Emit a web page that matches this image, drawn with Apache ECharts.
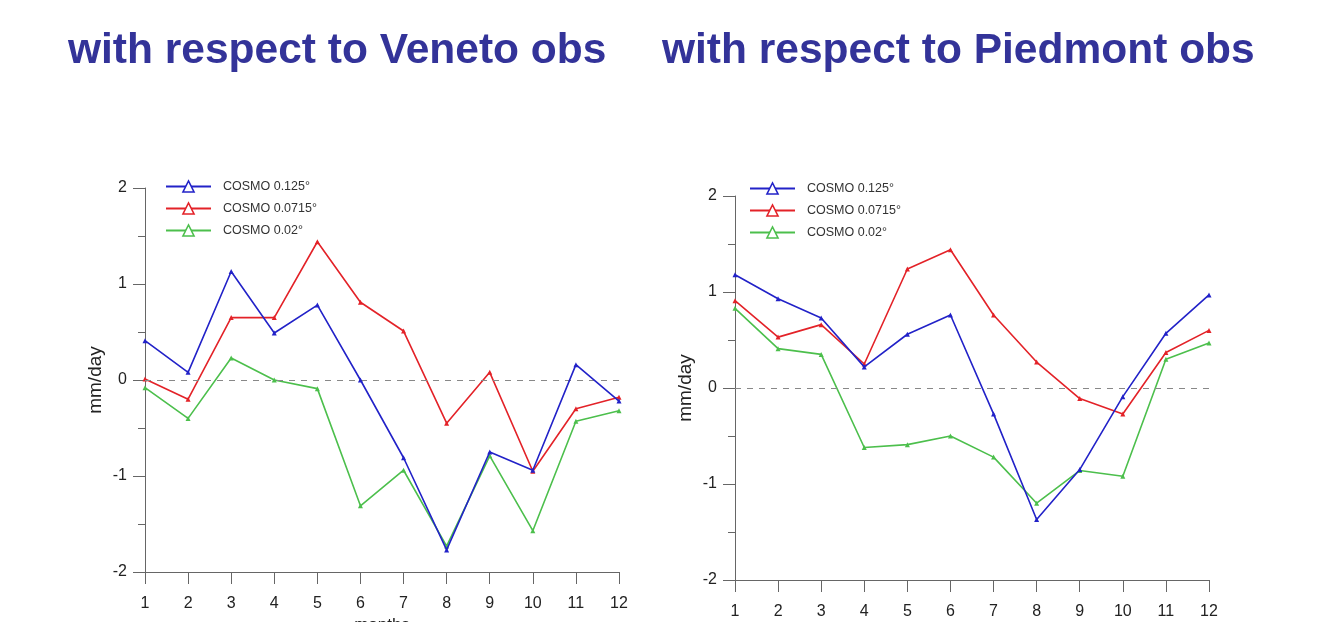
<!DOCTYPE html>
<html>
<head>
<meta charset="utf-8">
<script src="https://cdn.jsdelivr.net/npm/echarts@6/dist/echarts.min.js"></script>
<style>
  html, body { margin: 0; padding: 0; background: #fff; }
  #chart { width: 1325px; height: 622px; }
</style>
</head>
<body>
<div id="chart"></div>
<script>
// Monthly precipitation bias (mm/day) of three COSMO resolutions
const months = [1, 2, 3, 4, 5, 6, 7, 8, 9, 10, 11, 12];
const seriesNames = ['COSMO 0.125°', 'COSMO 0.0715°', 'COSMO 0.02°'];
const yTicks = [-2, -1, 0, 1, 2];

// Bias against Veneto observations
const venetoCosmo0125 = [0.41, 0.08, 1.13, 0.49, 0.78, 0.0, -0.81, -1.77, -0.75, -0.94, 0.16, -0.22];
const venetoCosmo00715 = [0.01, -0.20, 0.65, 0.65, 1.44, 0.81, 0.51, -0.45, 0.08, -0.95, -0.30, -0.18];
const venetoCosmo002 = [-0.08, -0.40, 0.23, 0.0, -0.09, -1.31, -0.94, -1.73, -0.79, -1.57, -0.43, -0.32];

// Bias against Piedmont observations
const piedmontCosmo0125 = [1.18, 0.93, 0.73, 0.22, 0.56, 0.76, -0.27, -1.37, -0.85, -0.09, 0.57, 0.97];
const piedmontCosmo00715 = [0.91, 0.53, 0.66, 0.25, 1.24, 1.44, 0.76, 0.27, -0.11, -0.27, 0.37, 0.60];
const piedmontCosmo002 = [0.83, 0.41, 0.35, -0.62, -0.59, -0.50, -0.72, -1.20, -0.86, -0.92, 0.30, 0.47];

const colors = ['#2222c8', '#e32228', '#4cbf4c'];
const axisColor = '#666';
const labelColor = '#222';

function pairs(values) {
  return months.map((m, i) => [m, values[i]]);
}

function makeGrid(left, top) {
  return { left: left, top: top, width: 474, height: 384, outerBoundsMode: 'none', containLabel: false };
}

function makeXAxis(gridIndex) {
  return {
    gridIndex: gridIndex,
    type: 'value',
    min: 1, max: 12, interval: 1,
    name: 'months',
    nameLocation: 'middle',
    nameGap: 45,
    nameTextStyle: { fontFamily: 'Liberation Sans, Arial', fontSize: 17, color: labelColor },
    axisLine: { onZero: false, lineStyle: { color: axisColor, width: 1 } },
    axisTick: { show: true, inside: false, length: 12, lineStyle: { color: axisColor } },
    axisLabel: { margin: 24, fontFamily: 'Liberation Sans, Arial', fontSize: 16, color: labelColor },
    splitLine: { show: false }
  };
}

function makeYAxis(gridIndex) {
  return {
    gridIndex: gridIndex,
    type: 'value',
    min: yTicks[0], max: yTicks[yTicks.length - 1], interval: 1,
    name: 'mm/day',
    nameLocation: 'middle',
    nameGap: 40,
    nameRotate: 90,
    nameTextStyle: { fontFamily: 'Liberation Sans, Arial', fontSize: 19, color: labelColor },
    axisLine: { show: true, onZero: false, lineStyle: { color: axisColor, width: 1 } },
    axisTick: { show: true, length: 12, lineStyle: { color: axisColor } },
    minorTick: { show: true, splitNumber: 2, length: 7, lineStyle: { color: axisColor } },
    axisLabel: { margin: 18, fontFamily: 'Liberation Sans, Arial', fontSize: 16, color: labelColor },
    splitLine: { show: false },
    minorSplitLine: { show: false }
  };
}

function makeSeries(name, values, colorIdx, axisIdx, withZeroLine) {
  const s = {
    name: name,
    type: 'line',
    xAxisIndex: axisIdx,
    yAxisIndex: axisIdx,
    data: pairs(values),
    symbol: 'triangle',
    symbolSize: 5,
    showSymbol: true,
    lineStyle: { color: colors[colorIdx], width: 1.6 },
    itemStyle: { color: colors[colorIdx] },
    z: 3 - colorIdx + 2
  };
  if (withZeroLine) {
    s.markLine = {
      silent: true,
      symbol: 'none',
      label: { show: false },
      lineStyle: { color: '#888', type: [6, 6], width: 1 },
      data: [{ yAxis: 0 }]
    };
  }
  return s;
}

function makeLegend(left, top) {
  return {
    orient: 'vertical',
    left: left,
    top: top,
    padding: 0,
    itemWidth: 45,
    itemHeight: 14,
    itemGap: 9,
    textStyle: { fontFamily: 'Liberation Sans, Arial', fontSize: 12.5, color: '#333', padding: [0, 0, 0, 7] },
    data: seriesNames.map((n, i) => ({
      name: n,
      itemStyle: { color: '#fff', borderColor: colors[i], borderWidth: 1.5 }
    }))
  };
}

const titleStyle = { fontFamily: 'Liberation Sans, Arial', fontSize: 42.5, fontWeight: 'bold', color: '#333399' };

const chart = echarts.init(document.getElementById('chart'), null, { renderer: 'canvas' });
chart.setOption({
  animation: false,
  backgroundColor: '#fff',
  title: [
    { text: 'with respect to Veneto obs', left: 68, top: 30, padding: 0, textStyle: titleStyle },
    { text: 'with respect to Piedmont obs', left: 662, top: 30, padding: 0, textStyle: titleStyle }
  ],
  grid: [makeGrid(145, 188), makeGrid(735, 196)],
  xAxis: [makeXAxis(0), makeXAxis(1)],
  yAxis: [makeYAxis(0), makeYAxis(1)],
  legend: [makeLegend(165, 180), makeLegend(749, 182)],
  series: [
    makeSeries(seriesNames[0], venetoCosmo0125, 0, 0, true),
    makeSeries(seriesNames[1], venetoCosmo00715, 1, 0, false),
    makeSeries(seriesNames[2], venetoCosmo002, 2, 0, false),
    makeSeries(seriesNames[0], piedmontCosmo0125, 0, 1, true),
    makeSeries(seriesNames[1], piedmontCosmo00715, 1, 1, false),
    makeSeries(seriesNames[2], piedmontCosmo002, 2, 1, false)
  ]
});
</script>
</body>
</html>
